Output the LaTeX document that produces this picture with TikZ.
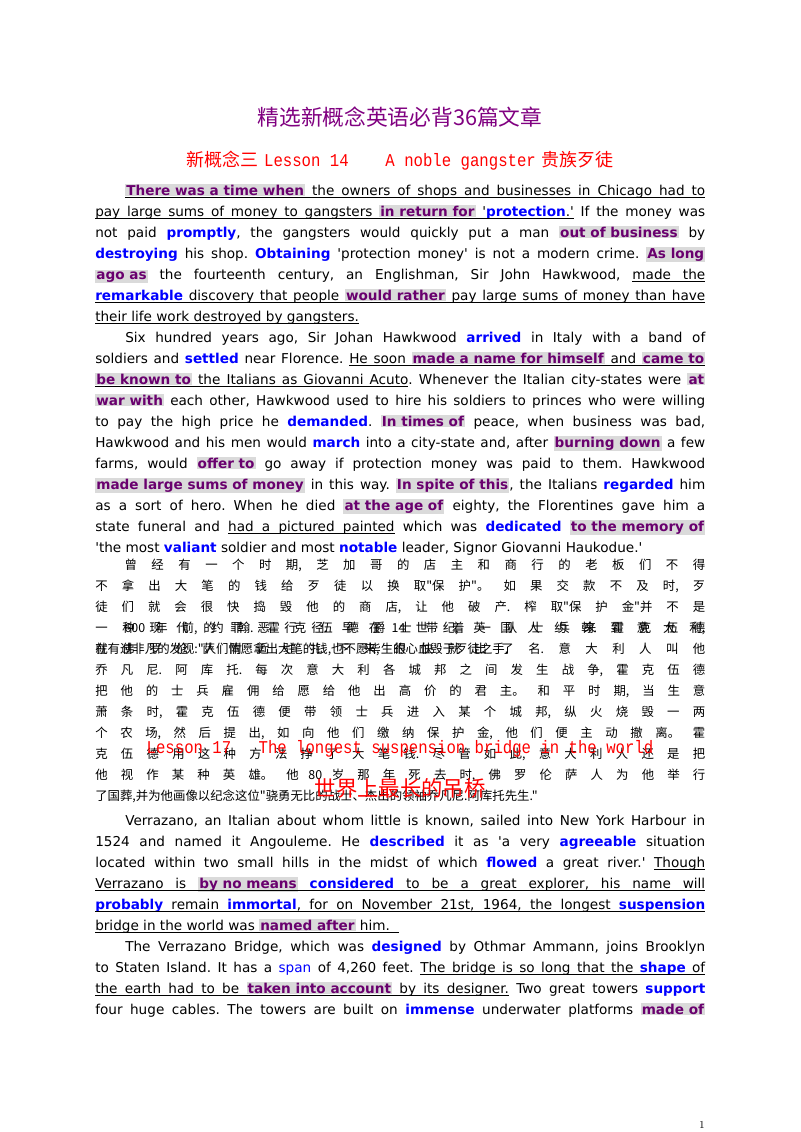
\documentclass[tikz,border=0pt]{standalone}
\usepackage{fontspec}
\setmainfont{DejaVu Sans}[Ligatures=TeXOff]
\newfontfamily\cjk{Noto Sans CJK SC}
\newfontfamily\monof{Liberation Mono}[FakeStretch=0.87]
\definecolor{hlp}{RGB}{105,0,110}
\definecolor{hlg}{RGB}{218,218,218}
\definecolor{ttl}{RGB}{128,0,128}
\setlength{\fboxsep}{0.8pt}
\frenchspacing
\newcommand\hp[1]{\colorbox{hlg}{\textcolor{hlp}{\textbf{#1}}}}
\newcommand\bb[1]{\textcolor{blue}{\textbf{#1}}}
\makeatletter
\def\ul@stop{\ul@stop}
\def\ul@stopm{\ul@stop{}}
\def\uline#1{\ul@a#1 \ul@stop{} }
\def\ul@word#1{\setbox0\hbox{#1}\copy0\llap{\vrule height -1.7pt depth 2.3pt width \wd0}}
\def\ul@sp{\leaders\hrule height -1.7pt depth 2.3pt\hskip\fontdimen2\font plus \fontdimen3\font minus \fontdimen4\font}
\def\ul@a#1 {\def\ul@tmp{#1}\ifx\ul@tmp\ul@stopm\let\ul@next\relax\else\ul@word{#1}\let\ul@next\ul@b\fi\ul@next}
\def\ul@b#1 {\def\ul@tmp{#1}\ifx\ul@tmp\ul@stopm\let\ul@next\relax\else\ul@sp\ul@word{#1}\let\ul@next\ul@b\fi\ul@next}
\makeatother
\tikzset{txt/.style={anchor=base west,inner sep=0pt,font=\fontsize{10.2}{12}\selectfont},
 ttlf/.style={anchor=base,inner sep=0pt},
 cn/.style={anchor=north west,inner sep=0pt,text width=457.5pt,align=justify,font=\cjk\fontsize{9.3}{15.75}\selectfont}}
\newcommand\tind[3]{\node[txt] (#1) at (125,#2+5) {\makebox[435pt][s]{#3}};}
\newcommand\tline[3]{\node[txt] (#1) at (95,#2+5) {\makebox[457.5pt][s]{#3}};}
\newcommand\tlast[3]{\node[txt] (#1) at (95,#2+5) {#3};}
\XeTeXlinebreaklocale "zh"
\XeTeXlinebreakskip=0pt plus 2pt
\begin{document}
\begin{tikzpicture}[x=0.75pt,y=-0.75pt]
\useasboundingbox (0,0) rectangle (800,1132);
\node[ttlf,text=ttl,font=\cjk\fontsize{16.3}{19}\selectfont] (title) at (400,125) {精选新概念英语必背36篇文章};
\node[ttlf,text=red,font=\fontsize{13.5}{16}\selectfont] (sub1) at (400,166) {{\cjk 新概念三} {\monof Lesson 14\quad\ \ A noble gangster} {\cjk 贵族歹徒}};
\tind{a1}{190}{\uline{{\hp{There was a time when}} the owners of shops and businesses in Chicago had to}}
\tline{a2}{211}{\uline{pay large sums of money to gangsters {\hp{in return for}} '{\bb{protection}}.'} If the money was}
\tline{a3}{232}{not paid \bb{promptly}, the gangsters would quickly put a man \hp{out of business} by}
\tline{a4}{253}{\bb{destroying} his shop. \bb{Obtaining} 'protection money' is not a modern crime. \hp{As long}}
\tline{a5}{274}{\hp{ago as} the fourteenth century, an Englishman, Sir John Hawkwood, \uline{made the}}
\tline{a6}{295}{\uline{{\bb{remarkable}} discovery that people {\hp{would rather}} pay large sums of money than have}}
\tlast{a7}{316}{\uline{their life work destroyed by gangsters.}}
\tind{b1}{337}{Six hundred years ago, Sir Johan Hawkwood \bb{arrived} in Italy with a band of}
\tline{b2}{358}{soldiers and \bb{settled} near Florence. \uline{He soon {\hp{made a name for himself}} and {\hp{came to}}}}
\tline{b3}{379}{\uline{{\hp{be known to}} the Italians as Giovanni Acuto}. Whenever the Italian city-states were \hp{at}}
\tline{b4}{400}{\hp{war with} each other, Hawkwood used to hire his soldiers to princes who were willing}
\tline{b5}{421}{to pay the high price he \bb{demanded}. \hp{In times of} peace, when business was bad,}
\tline{b6}{442}{Hawkwood and his men would \bb{march} into a city-state and, after \hp{burning down} a few}
\tline{b7}{463}{farms, would \hp{offer to} go away if protection money was paid to them. Hawkwood}
\tline{b8}{484}{\hp{made large sums of money} in this way. \hp{In spite of this}, the Italians \bb{regarded} him}
\tline{b9}{505}{as a sort of hero. When he died \hp{at the age of} eighty, the Florentines gave him a}
\tline{b10}{526}{state funeral and \uline{had a pictured painted} which was \bb{dedicated} \hp{to the memory of}}
\tlast{b11}{547}{'the most \bb{valiant} soldier and most \bb{notable} leader, Signor Giovanni Haukodue.'}
\node[cn] (c1) at (95,559) {\hspace*{22pt}曾经有一个时期,芝加哥的店主和商行的老板们不得不拿出大笔的钱给歹徒以换取"保护"。如果交款不及时,歹\linebreak 徒们就会很快捣毁他的商店,让他破产.榨取"保护金"并不是一种现代的罪恶行径.早在 14 世纪,英国人约翰.霍克伍德\linebreak 就有过非凡的发现:"人们情愿拿出大笔的钱,也不愿毕生的心血毁于歹徒之手.};
\node[cn] (c2) at (95,622) {\hspace*{22pt}600 年前,约翰.霍克伍德爵士带着一队士兵来到意大利,在佛罗伦萨附近驻扎下来,很快就出了名.意大利人叫他\linebreak 乔凡尼.阿库托.每次意大利各城邦之间发生战争,霍克伍德把他的士兵雇佣给愿给他出高价的君主。和平时期,当生意\linebreak 萧条时,霍克伍德便带领士兵进入某个城邦,纵火烧毁一两个农场,然后提出,如向他们缴纳保护金,他们便主动撤离。霍\linebreak 克伍德用这种方法挣了大笔钱.尽管如此,意大利人还是把他视作某种英雄。他 80 岁那年死去时,佛罗伦萨人为他举行\linebreak 了国葬,并为他画像以纪念这位"骁勇无比的战士、杰出的领袖乔凡尼.阿库托先生."};
\node[ttlf,text=red,font=\monof\fontsize{13.5}{16}\selectfont] (sub2) at (400,753) {Lesson 17\quad\ The longest suspension bridge in the world};
\node[ttlf,text=red,font=\cjk\fontsize{16}{18}\selectfont] (sub3) at (400,796) {世界上最长的吊桥};
\tind{d1}{820}{Verrazano, an Italian about whom little is known, sailed into New York Harbour in}
\tline{d2}{841}{1524 and named it Angouleme. He \bb{described} it as 'a very \bb{agreeable} situation}
\tline{d3}{862}{located within two small hills in the midst of which \bb{flowed} a great river.' \uline{Though}}
\tline{d4}{883}{\uline{Verrazano is {\hp{by no means}} {\bb{considered}} to be a great explorer, his name will}}
\tline{d5}{904}{\uline{{\bb{probably}} remain {\bb{immortal}}, for on November 21st, 1964, the longest {\bb{suspension}}}}
\tlast{d6}{925}{\uline{bridge in the world was {\hp{named after}} him.\ \ }}
\tind{e1}{946}{The Verrazano Bridge, which was \bb{designed} by Othmar Ammann, joins Brooklyn}
\tline{e2}{967}{to Staten Island. It has a \textcolor{blue}{span} of 4,260 feet. \uline{The bridge is so long that the {\bb{shape}} of}}
\tline{e3}{988}{\uline{the earth had to be {\hp{taken into account}} by its designer.} Two great towers \bb{support}}
\tline{e4}{1009}{four huge cables. The towers are built on \bb{immense} underwater platforms \hp{made of}}
\node[anchor=base east,inner sep=0pt,font=\fontfamily{lmr}\fontsize{8}{9}\selectfont] (pg) at (705,1128) {1};
\end{tikzpicture}
\end{document}
